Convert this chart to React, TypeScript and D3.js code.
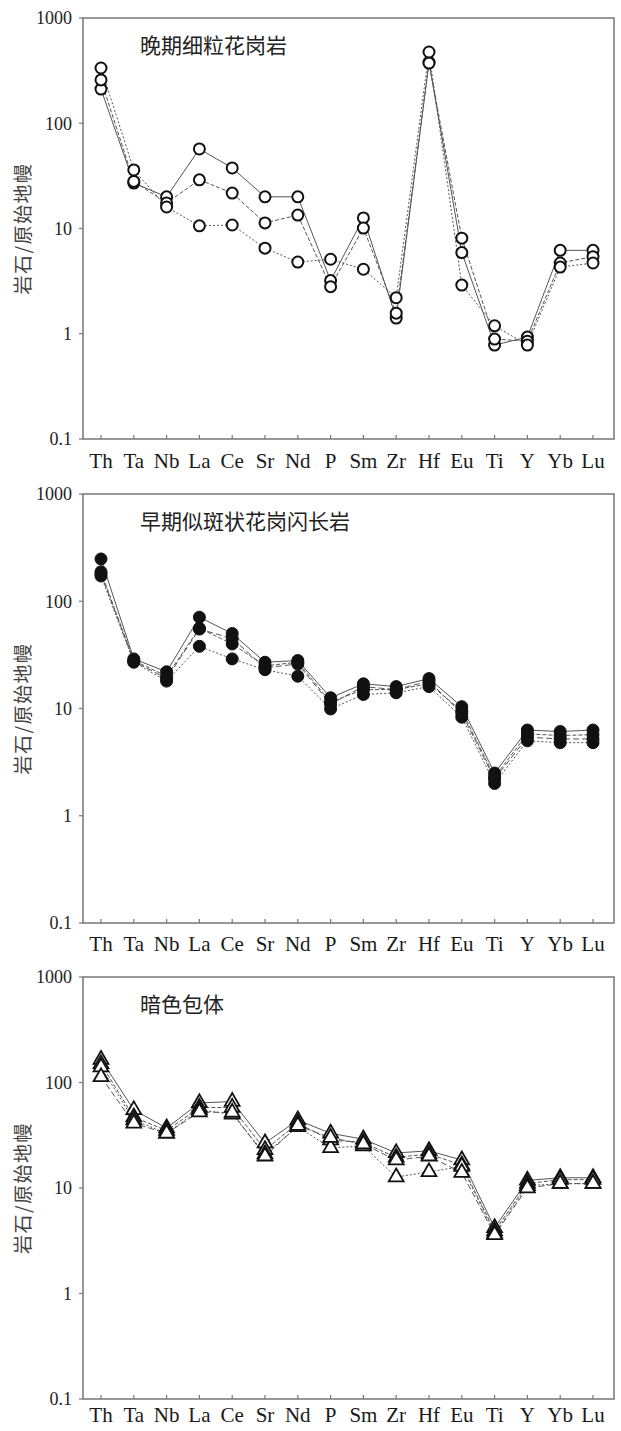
import React from 'react';
import * as d3 from 'd3';

// element order on the x axis
const elements = ['Th', 'Ta', 'Nb', 'La', 'Ce', 'Sr', 'Nd', 'P', 'Sm', 'Zr', 'Hf', 'Eu', 'Ti', 'Y', 'Yb', 'Lu'];
const yTicks = [0.1, 1, 10, 100, 1000];
const yTickLabels = ['0.1', '1', '10', '100', '1000'];
const yTitle = '岩石/原始地幔';

// 晚期细粒花岗岩
const lateTitle = '晚期细粒花岗岩';
const lateA = [211, 27, 20, 57, 37.6, 20, 20, 3.2, 12.6, 1.41, 380, 5.9, 0.78, 0.93, 6.2, 6.2];
const lateB = [258, 28, 17.5, 29, 21.7, 11.3, 13.4, 2.8, 10.1, 1.57, 373, 8.1, 0.89, 0.85, 4.7, 5.4];
const lateC = [335, 36, 16, 10.6, 10.8, 6.5, 4.8, 5.1, 4.1, 2.2, 475, 2.9, 1.19, 0.78, 4.3, 4.7];

// 早期似斑状花岗闪长岩
const earlyTitle = '早期似斑状花岗闪长岩';
const earlyA = [248, 29, 22, 71, 50, 27, 28, 12.6, 17, 16, 19, 10.4, 2.5, 6.3, 6.1, 6.3];
const earlyB = [188, 28, 20, 56, 40, 25, 27, 11.5, 15, 15, 17, 9.5, 2.3, 5.8, 5.6, 5.7];
const earlyC = [172, 27, 18, 38, 29, 23, 20, 9.9, 13.5, 14, 16, 8.3, 2.0, 5.0, 4.8, 4.8];
const earlyD = [180, 27.5, 19, 55, 45, 24, 26, 11, 16, 15, 18, 9, 2.2, 5.4, 5.2, 5.2];

// 暗色包体
const enclaveTitle = '暗色包体';
const enclaveA = [165, 55, 37, 64, 66, 26.7, 44, 33, 29, 21.5, 22.5, 18.4, 4.2, 11.8, 12.5, 12.5];
const enclaveB = [150, 47, 35, 58, 58, 23, 41, 28.5, 27, 19.5, 21, 16.5, 3.9, 11, 12, 12];
const enclaveC = [140, 44, 33, 55, 50, 21, 38, 24, 25, 12.7, 14.2, 16, 3.7, 10.5, 11, 11];
const enclaveD = [113, 41, 33, 52.5, 52, 20, 39, 30, 26, 18.4, 20, 14, 3.6, 10, 11, 11];

const dashes = ['none', '4,2', '2,2', '6,3'];

const left = 83;
const right = 614;

function Panel({ top, bottom, title, series, marker, labelGap }) {
  const x = d3.scalePoint().domain(elements).range([101, 593]);
  const y = d3.scaleLog().domain([0.1, 1000]).range([bottom, top]);
  const line = d3
    .line()
    .x((d, i) => x(elements[i]))
    .y(d => y(d));
  const tri = d3.symbol(d3.symbolTriangle, 95);
  const mid = (top + bottom) / 2;

  return (
    <g>
      <rect x={left} y={top} width={right - left} height={bottom - top} fill="none" stroke="#777" strokeWidth={1.5} />
      {yTicks.map((t, i) => (
        <g key={t}>
          <line x1={left - 4} x2={left} y1={y(t)} y2={y(t)} stroke="#777" strokeWidth={1.2} />
          <text x={left - 11} y={y(t)} dy="0.35em" textAnchor="end" fontFamily="Liberation Serif" fontSize={18} fill="#222">
            {yTickLabels[i]}
          </text>
        </g>
      ))}
      {elements.map(e => (
        <g key={e}>
          <line x1={x(e)} x2={x(e)} y1={bottom} y2={bottom - 4} stroke="#777" strokeWidth={1.2} />
          <text x={x(e)} y={bottom + labelGap} textAnchor="middle" fontFamily="Liberation Serif" fontSize={21} fill="#1a1a1a">
            {e}
          </text>
        </g>
      ))}
      <text
        transform={`translate(23,${mid}) rotate(-90)`}
        dy="0.35em"
        textAnchor="middle"
        fontFamily="Noto Sans CJK SC"
        fontSize={19}
        letterSpacing={1.5}
        fill="#444"
      >
        {yTitle}
      </text>
      <text x={140} y={top + 35} fontFamily="Noto Sans CJK SC" fontSize={21} fill="#222">
        {title}
      </text>
      {series.map((s, k) => (
        <path key={'l' + k} d={line(s)} fill="none" stroke="#555" strokeWidth={1} strokeDasharray={dashes[k % dashes.length]} />
      ))}
      {series.map((s, k) =>
        s.map((v, i) =>
          marker === 'tri' ? (
            <path
              key={k + '-' + i}
              d={tri()}
              transform={`translate(${x(elements[i])},${y(v)})`}
              fill="#fff"
              stroke="#111"
              strokeWidth={1.8}
            />
          ) : (
            <circle
              key={k + '-' + i}
              cx={x(elements[i])}
              cy={y(v)}
              r={marker === 'filled' ? 6 : 5.5}
              fill={marker === 'filled' ? '#111' : '#fff'}
              stroke="#111"
              strokeWidth={marker === 'filled' ? 1 : 2}
            />
          )
        )
      )}
    </g>
  );
}

export default function App() {
  return (
    <svg width={621} height={1431} style={{ position: 'absolute', left: 0, top: 0, background: '#fff' }}>
      <rect width={621} height={1431} fill="#fff" />
      <Panel top={18} bottom={439} title={lateTitle} series={[lateA, lateB, lateC]} marker="open" labelGap={29} />
      <Panel top={494} bottom={923} title={earlyTitle} series={[earlyA, earlyB, earlyC, earlyD]} marker="filled" labelGap={28} />
      <Panel top={977} bottom={1399} title={enclaveTitle} series={[enclaveA, enclaveB, enclaveC, enclaveD]} marker="tri" labelGap={23} />
    </svg>
  );
}
